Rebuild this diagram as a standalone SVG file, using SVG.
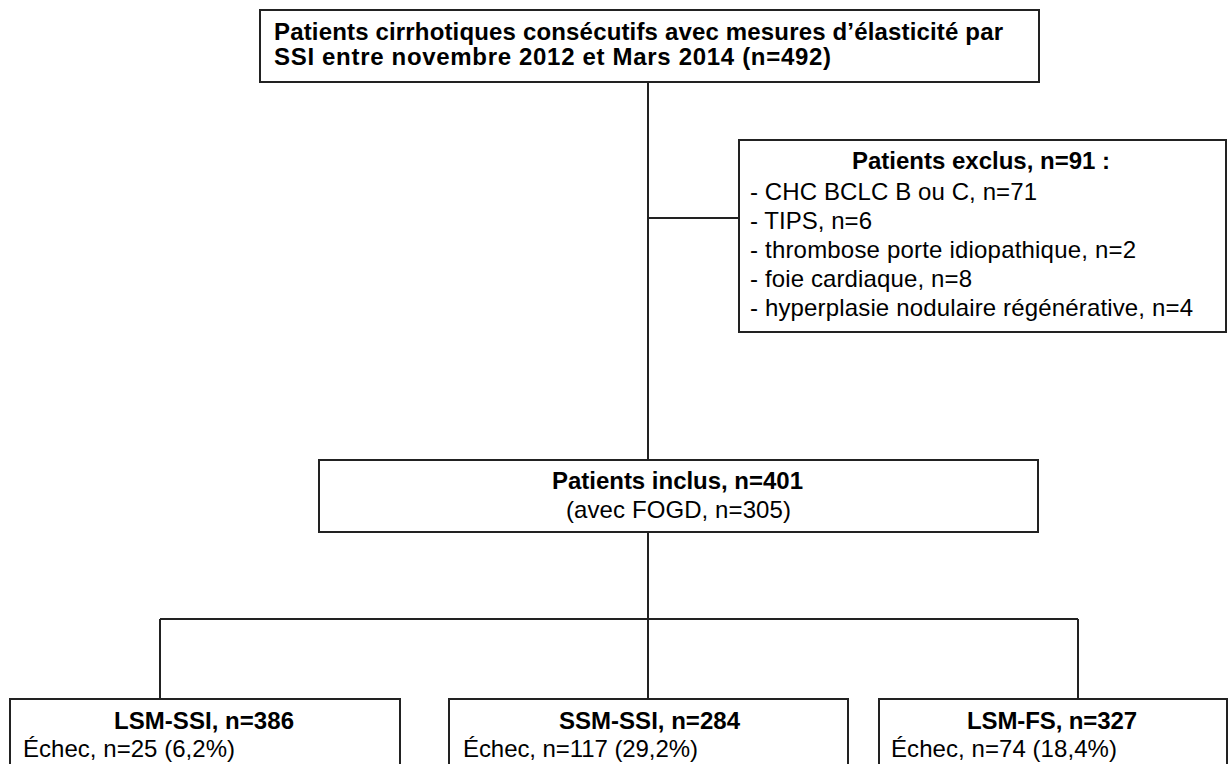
<svg xmlns="http://www.w3.org/2000/svg" width="1230" height="764" viewBox="0 0 1230 764">
<style>
.box{fill:#fff;stroke:#222;stroke-width:2}
.ln{fill:none;stroke:#222;stroke-width:2}
text{font-family:"Liberation Sans",Arial,sans-serif;fill:#000}
.b{font-weight:bold;font-size:24px}
.r{font-size:24px}
</style>
<rect width="1230" height="764" fill="#fff"/>
<g id="connectors">
<path class="ln" d="M648 82V460M648 218H739M648 532V619M160 619H1078M160 619V699M648 619V699M1078 619V699"/>
</g>
<g id="n-source">
<rect class="box" x="260" y="10" width="779" height="72"/>
<text class="b" x="274" y="40" textLength="729" lengthAdjust="spacing">Patients cirrhotiques consécutifs avec mesures d’élasticité par</text>
<text class="b" x="274" y="65" textLength="557" lengthAdjust="spacing">SSI entre novembre 2012 et Mars 2014 (n=492)</text>
</g>
<g id="n-excl">
<rect class="box" x="739" y="140" width="487" height="192"/>
<text class="b" x="852" y="169" textLength="258" lengthAdjust="spacing">Patients exclus, n=91 :</text>
<text class="r" x="750" y="200" textLength="287" lengthAdjust="spacing">- CHC BCLC B ou C, n=71</text>
<text class="r" x="750" y="229" textLength="122" lengthAdjust="spacing">- TIPS, n=6</text>
<text class="r" x="750" y="258" textLength="386" lengthAdjust="spacing">- thrombose porte idiopathique,  n=2</text>
<text class="r" x="750" y="287" textLength="222" lengthAdjust="spacing">- foie cardiaque, n=8</text>
<text class="r" x="750" y="316" textLength="443" lengthAdjust="spacing">- hyperplasie nodulaire régénérative, n=4</text>
</g>
<g id="n-incl">
<rect class="box" x="319" y="460" width="719" height="72"/>
<text class="b" x="552" y="489" textLength="251" lengthAdjust="spacing">Patients inclus, n=401</text>
<text class="r" x="566" y="518" textLength="225" lengthAdjust="spacing">(avec FOGD, n=305)</text>
</g>
<g id="n-lsmssi">
<rect class="box" x="10" y="699" width="390" height="80"/>
<text class="b" x="114" y="729" textLength="180" lengthAdjust="spacing">LSM-SSI, n=386</text>
<text class="r" x="23" y="757" textLength="212" lengthAdjust="spacing">Échec, n=25 (6,2%)</text>
</g>
<g id="n-ssmssi">
<rect class="box" x="449" y="699" width="399" height="80"/>
<text class="b" x="559" y="729" textLength="181" lengthAdjust="spacing">SSM-SSI, n=284</text>
<text class="r" x="463" y="757" textLength="235" lengthAdjust="spacing">Échec, n=117 (29,2%)</text>
</g>
<g id="n-lsmfs">
<rect class="box" x="879" y="699" width="348" height="80"/>
<text class="b" x="967" y="729" textLength="170" lengthAdjust="spacing">LSM-FS, n=327</text>
<text class="r" x="891" y="757" textLength="226" lengthAdjust="spacing">Échec, n=74 (18,4%)</text>
</g>
</svg>
